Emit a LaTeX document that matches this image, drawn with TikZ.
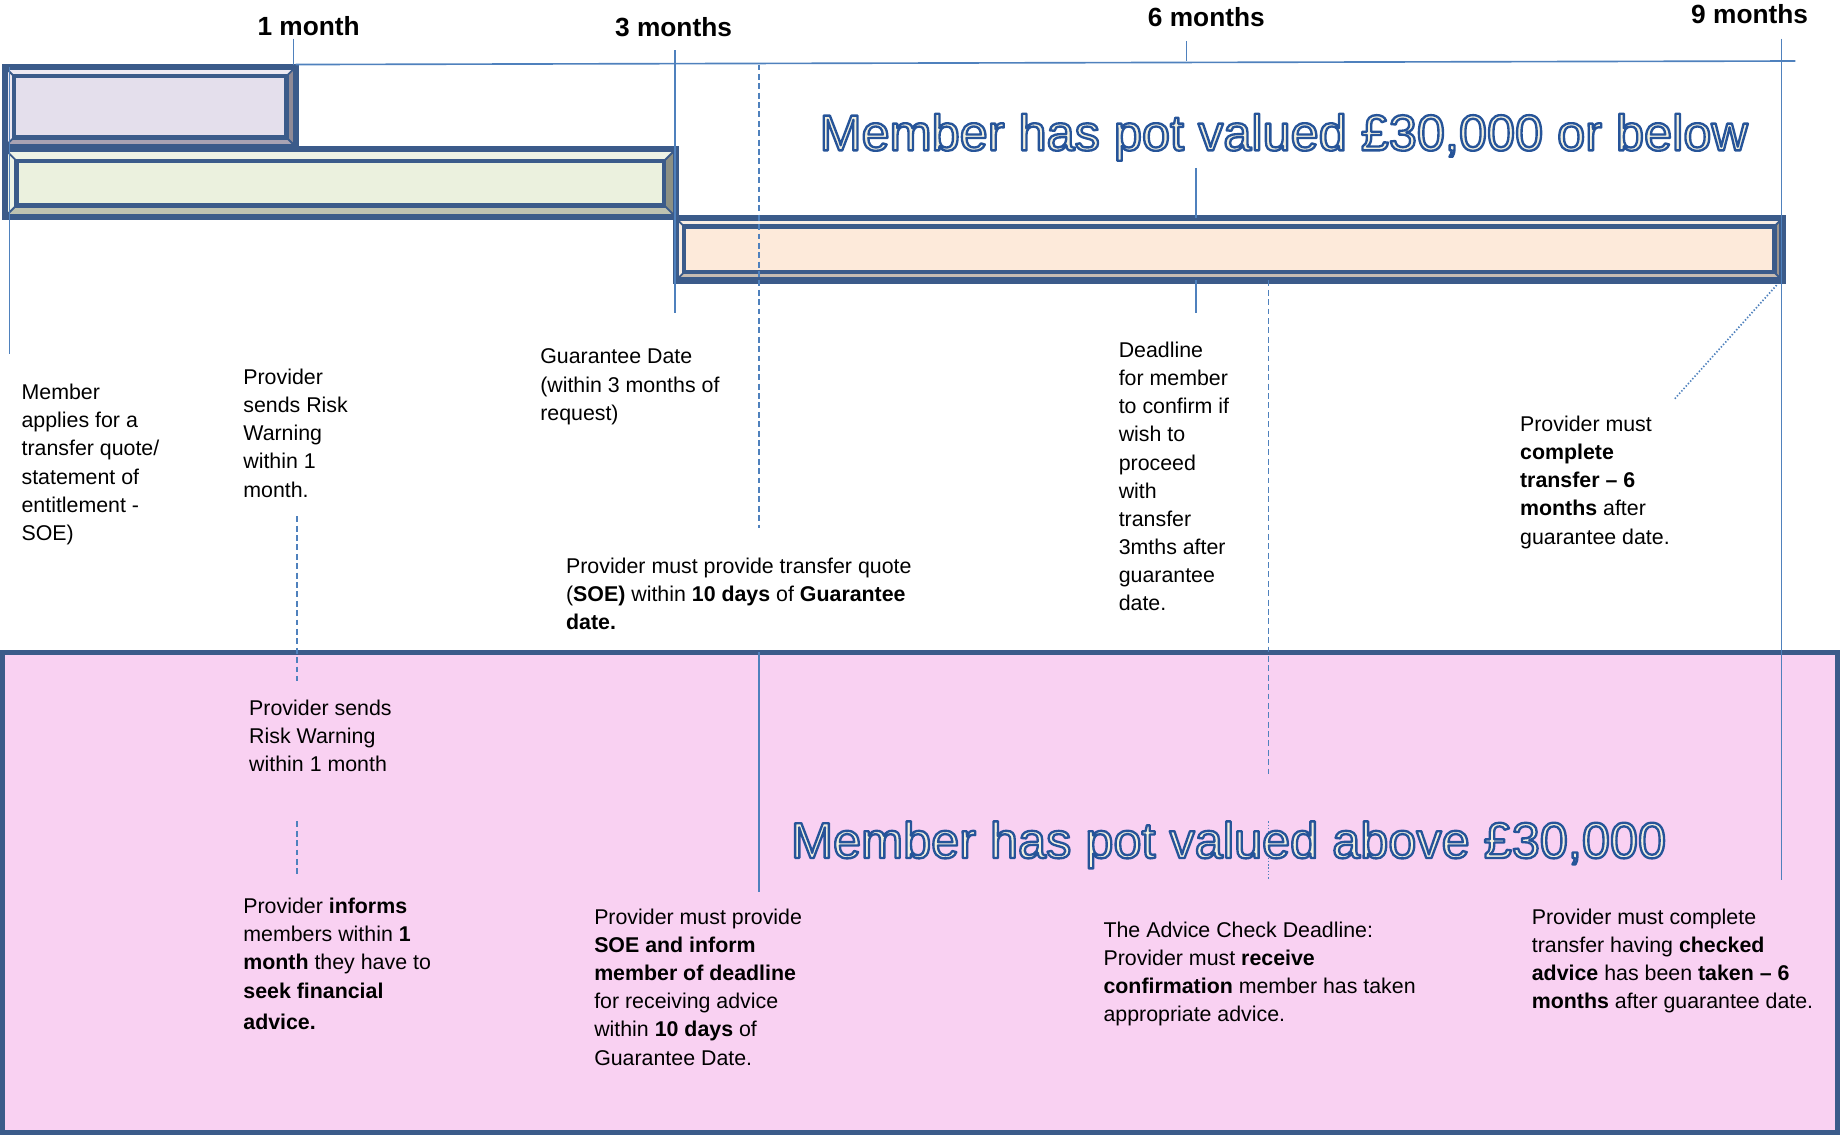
\documentclass[tikz,border=0pt]{standalone}
\usepackage{fontspec}
\setmainfont{Liberation Sans}
\usepackage{xcolor}
\usetikzlibrary{positioning}

\definecolor{barblue}{HTML}{3B5B8A}
\definecolor{guideblue}{HTML}{4F81BD}
\definecolor{potpink}{HTML}{F9D1F2}
\definecolor{titlecream}{HTML}{F4F1DF}
% bevel colours: A face, T top/left, B bottom, R right
\definecolor{lavA}{HTML}{E4DFEC}\definecolor{lavT}{HTML}{EDE9F2}
\definecolor{lavB}{HTML}{A9A3B3}\definecolor{lavR}{HTML}{8F8A96}
\definecolor{grnA}{HTML}{EBF1DE}\definecolor{grnT}{HTML}{EEF3E6}
\definecolor{grnB}{HTML}{BEC2B1}\definecolor{grnR}{HTML}{8C9084}
\definecolor{pchA}{HTML}{FDEADA}\definecolor{pchT}{HTML}{F8EDE4}
\definecolor{pchB}{HTML}{C7BCB2}\definecolor{pchR}{HTML}{9C948D}

% outlined title text (fill + stroke)
\newcommand{\outlined}[1]{\special{pdf:literal direct 0.15 0.33 0.6 RG 1 w 1 j 2 Tr}#1\special{pdf:literal direct 0 Tr}}

\tikzset{
  note/.style={anchor=north west, inner sep=0pt, align=left,
    font=\fontsize{9.1}{12}\selectfont},
  monthlabel/.style={inner sep=0pt, font=\fontsize{11.2}{13}\selectfont\bfseries},
  bigtitle/.style={inner sep=0pt, text=titlecream, font=\fontsize{21.5}{24}\selectfont},
  guide/.style={guideblue, line width=0.7pt},
  dashguide/.style={guide, dash pattern=on 2.5pt off 1.5pt},
  dotguide/.style={guide, dash pattern=on 0.6pt off 0.8pt},
  barline/.style={barblue, line width=1.9pt},
}

\begin{document}
\begin{tikzpicture}[x=0.5pt, y=-0.5pt]
    \useasboundingbox (0,0) rectangle (1568,967);

    % Pot above 30,000 panel
    \draw[barblue, line width=2.4pt, fill=potpink] (2,556) rectangle (1566,965);

    % Bars
    \foreach \xa/\ya/\xb/\yb/\ins/\clr in {4/57/252/125/8/lav, 4/127/576/185/10/grn, 576/186/1519/239/7/pch}{
        \fill[\clr A] (\xa,\ya) rectangle (\xb,\yb);
        \fill[\clr T] (\xa,\ya) -- (\xb,\ya) -- (\xb-\ins,\ya+\ins) -- (\xa+\ins,\ya+\ins)
            -- (\xa+\ins,\yb-\ins) -- (\xa,\yb) -- cycle;
        \fill[\clr B] (\xa,\yb) -- (\xb,\yb) -- (\xb-\ins,\yb-\ins) -- (\xa+\ins,\yb-\ins) -- cycle;
        \fill[\clr R] (\xb,\ya) -- (\xb,\yb) -- (\xb-\ins,\yb-\ins) -- (\xb-\ins,\ya+\ins) -- cycle;
        \draw[barline, line width=0.8pt] (\xa,\ya) -- (\xa+\ins,\ya+\ins) (\xb,\ya) -- (\xb-\ins,\ya+\ins)
            (\xa,\yb) -- (\xa+\ins,\yb-\ins) (\xb,\yb) -- (\xb-\ins,\yb-\ins);
        \draw[barline] (\xa+\ins,\ya+\ins) rectangle (\xb-\ins,\yb-\ins);
        \draw[barline, line width=2.6pt] (\xa,\ya) rectangle (\xb,\yb);
    }

    % Time axis and ticks
    \coordinate (axisL) at (252,55);
    \coordinate (axisR) at (1530,52);
    \draw[guide] (axisL) -- (axisR);
    \foreach \x/\ya/\yb in {250/33/55, 575/43/267, 1011/35/52, 1518/33/750}
        \draw[guide] (\x,\ya) -- (\x,\yb);
    \foreach \x/\y/\name/\txt in {263/22/one/1 month, 574/23/three/3 months, 1028/15/six/6 months, 1491/12/nine/9 months}
        \node[monthlabel] (\name) at (\x,\y) {\txt};

    % Guide lines
    \draw[guide] (8,57) -- (8,302);
    \draw[guide] (1019,143) -- (1019,186) (1019,239) -- (1019,267);
    \draw[guide] (647,556) -- (647,760);
    \draw[dashguide] (647,55) -- (647,450);
    \draw[dashguide] (1081,239) -- (1081,662);
    \draw[dashguide] (253,440) -- (253,580) (253,700) -- (253,748);
    \draw[dotguide] (1081,700) -- (1081,750);
    \draw[dotguide] (1514,243) -- (1427,340);

    % Titles
    \node[bigtitle] (lowTitle) at (1094,117) {\outlined{Member has pot valued £30,000 or below}};
    \node[bigtitle] (highTitle) at (1047,720) {\outlined{Member has pot valued above £30,000}};

    % Notes, pot 30,000 or below
    \node[note] (applyNote) at (18,327) {Member\\applies for a\\transfer quote/\\statement of\\entitlement -\\SOE)};
    \node[note] (riskNote) at (207,314) {Provider\\sends Risk\\Warning\\within 1\\month.};
    \node[note] (guaranteeNote) at (460,297) {Guarantee Date\\(within 3 months of\\request)};
    \node[note] (quoteNote) at (482,475) {Provider must provide transfer quote\\(\textbf{SOE)} within \textbf{10 days} of \textbf{Guarantee}\\\textbf{date.}};
    \node[note] (deadlineNote) at (953,291) {Deadline\\for member\\to confirm if\\wish to\\proceed\\with\\transfer\\3mths after\\guarantee\\date.};
    \node[note] (completeNote) at (1295,354) {Provider must\\\textbf{complete}\\\textbf{transfer – 6}\\\textbf{months} after\\guarantee date.};

    % Notes, pot above 30,000
    \node[note] (riskHighNote) at (212,596) {Provider sends\\Risk Warning\\within 1 month};
    \node[note] (adviceNote) at (207,765) {Provider \textbf{informs}\\members within \textbf{1}\\\textbf{month} they have to\\\textbf{seek financial}\\[1.5pt]\textbf{advice.}};
    \node[note] (informNote) at (506,774) {Provider must provide\\\textbf{SOE and inform}\\\textbf{member of deadline}\\for receiving advice\\within \textbf{10 days} of\\Guarantee Date.};
    \node[note] (checkNote) at (940,785) {The Advice Check Deadline:\\Provider must \textbf{receive}\\\textbf{confirmation} member has taken\\appropriate advice.};
    \node[note] (takenNote) at (1305,774) {Provider must complete\\transfer having \textbf{checked}\\\textbf{advice} has been \textbf{taken – 6}\\\textbf{months} after guarantee date.};
\end{tikzpicture}
\end{document}
